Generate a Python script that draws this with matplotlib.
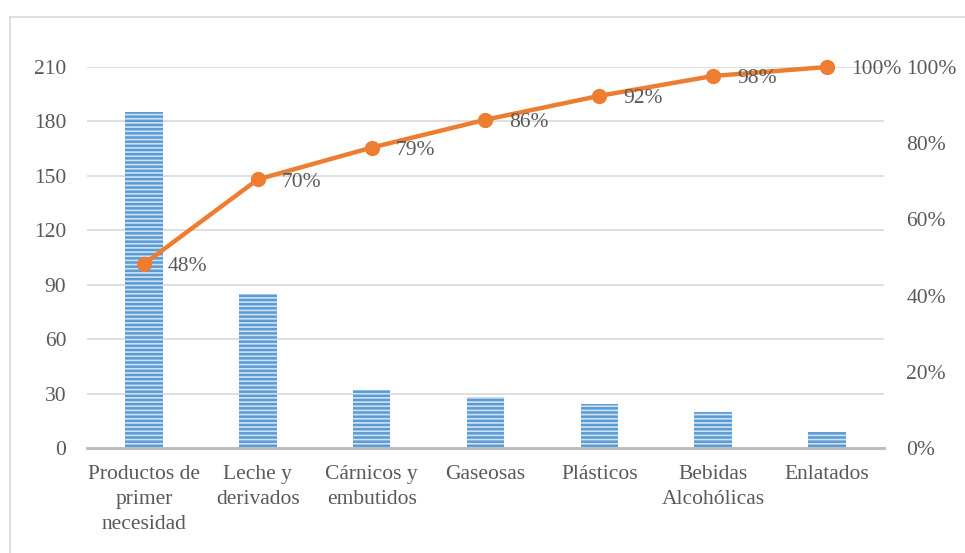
import matplotlib.pyplot as plt
import numpy as np
from matplotlib.patches import Rectangle
from matplotlib.ticker import FuncFormatter

plt.rcParams['font.family'] = ['Liberation Serif', 'DejaVu Serif']
plt.rcParams['hatch.linewidth'] = 1.2
plt.rcParams['hatch.color'] = '#cfe2f3'

# ----------datos----------
categorias = ['Productos de\nprimer\nnecesidad', 'Leche y\nderivados', 'Cárnicos y\nembutidos',
              'Gaseosas', 'Plásticos', 'Bebidas\nAlcohólicas', 'Enlatados']
cantidades = [185, 85, 32, 28, 24, 20, 9]

gris = '#595959'
azul = '#5b9bd5'
naranja = '#ed7d31'

valores = np.array(cantidades, dtype=float)
acumulado = np.cumsum(valores) / valores.sum()

fig = plt.figure(figsize=(9.65, 5.53), dpi=100)
# marco del grafico
fig.patches.append(Rectangle((10 / 965, -0.1), 1.2, 0.1 + (553 - 17) / 553,
                             transform=fig.transFigure, fill=False,
                             edgecolor='#d9d9d9', linewidth=1.2, zorder=0))

ax = fig.add_axes([87 / 965, 105 / 553, (884 - 87) / 965, (448 - 67) / 553])
x = np.arange(len(categorias))
ax.bar(x, valores, 0.33, color=azul, hatch='----', linewidth=0, zorder=2)

ax.set_xlim(-0.5, len(categorias) - 0.5)
ax.set_ylim(0, 210)
ax.set_yticks(np.arange(0, 211, 30))
ax.set_xticks(x)
ax.set_xticklabels(categorias, linespacing=1.45)
ax.grid(axis='y', color='#d9d9d9', linewidth=1.2, zorder=0)
ax.set_axisbelow(True)
for s in ['top', 'right', 'left']:
    ax.spines[s].set_visible(False)
ax.spines['bottom'].set_color('#bfbfbf')
ax.spines['bottom'].set_linewidth(2.2)
ax.tick_params(axis='both', length=0, labelsize=15.5, colors=gris)
ax.tick_params(axis='y', pad=15)
ax.tick_params(axis='x', pad=12)

# ----------curva de Pareto----------
ax2 = ax.twinx()
ax2.set_ylim(0, 1)
ax2.set_yticks(np.arange(0, 1.01, 0.2))
ax2.yaxis.set_major_formatter(FuncFormatter(lambda v, p: '{:.0f}%'.format(v * 100)))
ax2.tick_params(axis='y', length=0, labelsize=15.5, colors=gris, pad=16)
for s in ax2.spines.values():
    s.set_visible(False)

ax2.plot(x, acumulado, color=naranja, linewidth=3.2, marker='o', markersize=10,
         zorder=3, clip_on=False)
for xi, yi in zip(x, acumulado):
    ax2.annotate('{:.0f}%'.format(yi * 100), xy=(xi, yi), xytext=(17, -2),
                 textcoords='offset points', ha='left', va='center',
                 fontsize=15.5, color=gris)

plt.savefig('out.png', dpi=100)
